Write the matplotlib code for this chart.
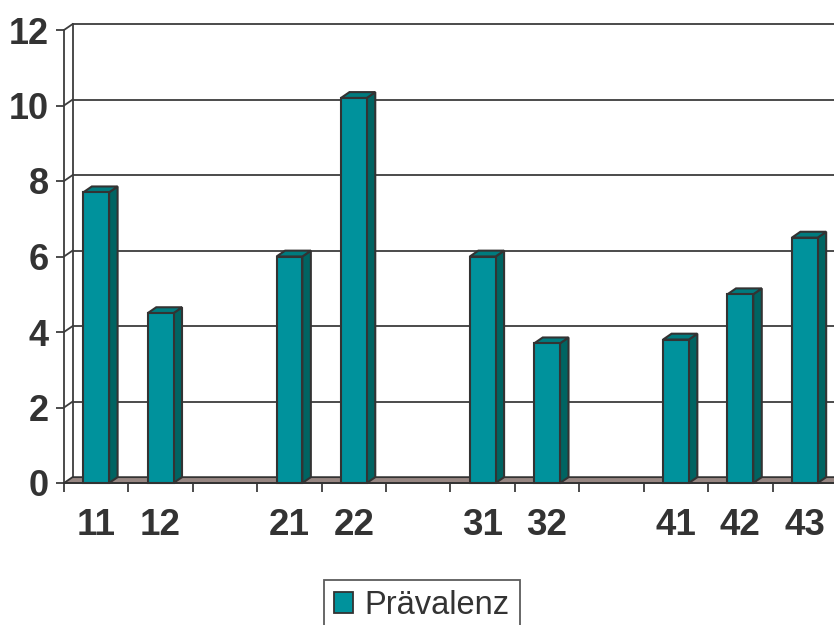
import matplotlib
matplotlib.use("Agg")
import matplotlib.pyplot as plt
from matplotlib.patches import Polygon, Patch
import numpy as np

# Category slots (empty slots keep the gaps between groups)
categories = ["11", "12", "", "21", "22", "", "31", "32", "", "41", "42", "43"]
values = [7.7, 4.5, None, 6.0, 10.2, None, 6.0, 3.7, None, 3.8, 5.0, 6.5]
y_ticks = [0, 2, 4, 6, 8, 10, 12]
series_name = "Prävalenz"

FRONT = "#00929C"
SIDE = "#006462"
TOP = "#007B7E"
EDGE = "#333333"
FLOOR = "#978682"
GRID = "#3d3d3d"

W, H, DPI = 834, 625, 100
fig = plt.figure(figsize=(W / DPI, H / DPI), dpi=DPI)
left_px, right_px, top_px, bottom_px = 64, 837, 30, 483
ax = fig.add_axes([left_px / W, 1 - bottom_px / H,
                   (right_px - left_px) / W, (bottom_px - top_px) / H])

n = len(categories)
ax.set_xlim(0, n)
ax.set_ylim(0, 12)

# depth offset of the 3D box (in data units)
dx, dy = 0.132, 0.155
bar_w = 0.40

# back wall gridlines and left wall connectors
for t in y_ticks[1:]:
    ax.plot([dx, n + dx], [t + dy, t + dy], color=GRID, lw=1.3, zorder=1, clip_on=False)
    ax.plot([0, dx], [t, t + dy], color=GRID, lw=1.3, zorder=1, clip_on=False)
ax.plot([dx, dx], [dy, 12 + dy], color=GRID, lw=1.3, zorder=1, clip_on=False)

# floor
floor = Polygon([(0, 0), (n, 0), (n + dx, dy), (dx, dy)], closed=True,
                facecolor=FLOOR, edgecolor=EDGE, lw=1.3, zorder=2, clip_on=False)
ax.add_patch(floor)

# bars: front faces drawn by ax.bar, sides and tops from the same rectangles
xs = [i + 0.5 for i, v in enumerate(values) if v is not None]
hs = [v for v in values if v is not None]
bars = ax.bar(xs, hs, width=bar_w, color=FRONT, edgecolor=EDGE, lw=1.5,
              zorder=4, clip_on=False)
for rect in bars:
    x0, y0 = rect.get_x(), rect.get_y()
    w, h = rect.get_width(), rect.get_height()
    side = Polygon([(x0 + w, y0), (x0 + w + dx, y0 + dy),
                    (x0 + w + dx, y0 + h + dy), (x0 + w, y0 + h)],
                   closed=True, facecolor=SIDE, edgecolor=EDGE, lw=1.5,
                   zorder=3, clip_on=False)
    top = Polygon([(x0, y0 + h), (x0 + w, y0 + h),
                   (x0 + w + dx, y0 + h + dy), (x0 + dx, y0 + h + dy)],
                  closed=True, facecolor=TOP, edgecolor=EDGE, lw=1.5,
                  zorder=3, clip_on=False)
    ax.add_patch(side)
    ax.add_patch(top)

# axes styling
for s in ["top", "right"]:
    ax.spines[s].set_visible(False)
ax.spines["left"].set_color(GRID)
ax.spines["left"].set_linewidth(1.3)
ax.spines["bottom"].set_color(EDGE)
ax.spines["bottom"].set_linewidth(1.3)
ax.spines["bottom"].set_zorder(5)

ax.set_yticks(y_ticks)
ax.set_yticklabels([str(t) for t in y_ticks])
ax.tick_params(axis="y", length=5.8, width=1.3, color=GRID, pad=5.0,
               labelsize=26, labelcolor="#333333")
for lbl in ax.get_yticklabels():
    lbl.set_fontfamily("Liberation Sans")
    lbl.set_fontweight("bold")

ax.set_xticks([i + 0.5 for i in range(n)])
ax.set_xticklabels(categories)
ax.set_xticks(np.arange(0, n + 1), minor=True)
ax.tick_params(axis="x", which="major", length=0, pad=18, labelsize=26.5,
               labelcolor="#333333")
ax.tick_params(axis="x", which="minor", length=6.5, width=1.3, color=GRID)
for lbl in ax.get_xticklabels():
    lbl.set_fontfamily("Liberation Sans")
    lbl.set_fontweight("bold")

# legend
handle = Patch(facecolor=FRONT, edgecolor=EDGE, lw=1.3, label=series_name)
leg = fig.legend(handles=[handle], loc="upper left",
                 bbox_to_anchor=(324 / W, 1 - 580 / H),
                 prop={"family": "Liberation Sans", "size": 23.5},
                 frameon=True, fancybox=False, handlelength=0.6,
                 handleheight=0.6, handletextpad=0.35, borderpad=0.3,
                 borderaxespad=0)
leg.get_frame().set_edgecolor(EDGE)
leg.get_frame().set_linewidth(1.3)
for t in leg.get_texts():
    t.set_color("#333333")

fig.savefig("out.png", dpi=DPI)
